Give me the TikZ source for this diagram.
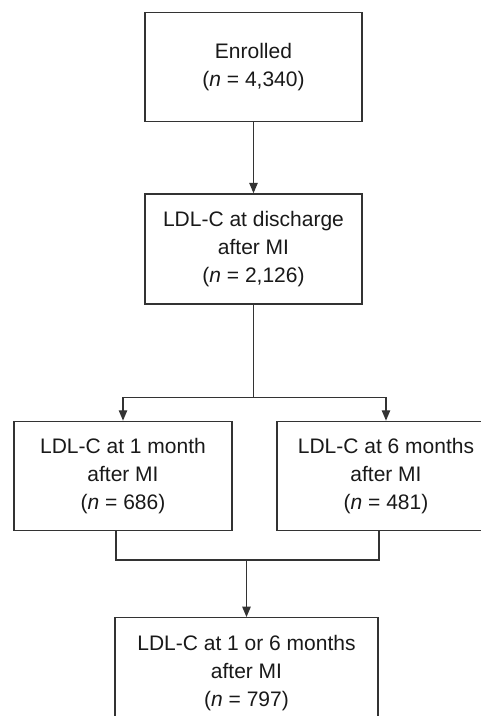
\documentclass[tikz,border=0pt]{standalone}
\usepackage{fontspec}
\setmainfont{Liberation Sans}
\usetikzlibrary{arrows,positioning}

\begin{document}
\begin{tikzpicture}[x=1pt,y=1pt,>=triangle 45,line width=1.4pt,
			color=black!80,
			box/.style={rectangle,draw,align=center,text=black!90,
				font=\fontsize{21}{28}\selectfont,
				minimum width=217pt,minimum height=109pt,inner sep=2pt}]
			
			\useasboundingbox (0,0) rectangle (481,-716);
			\clip (0,0) rectangle (481,-716);
			
			\node[box] (enrol) at (253.5,-67) {Enrolled\\(\textit{n}~=~4,340)};
			\node[box,minimum height=110pt] (disch) [below=71pt of enrol]
				{LDL-C at discharge\\after MI\\(\textit{n}~=~2,126)};
			\node[box,minimum width=218pt] (mon1) [below=116pt of disch,xshift=-130.5pt]
				{LDL-C at 1 month\\after MI\\(\textit{n}~=~686)};
			\node[box,minimum width=218pt] (mon6) [below=116pt of disch,xshift=132.5pt]
				{LDL-C at 6 months\\after MI\\(\textit{n}~=~481)};
			\node[box,minimum width=263pt,minimum height=110pt] (final) [below=86pt of mon1,xshift=123.5pt]
				{LDL-C at 1 or 6 months\\after MI\\(\textit{n}~=~797)};
			
			% split and join points
			\coordinate (split) at ([yshift=-93pt]disch.south);
			\coordinate (jl) at ([xshift=-7pt,yshift=-29pt]mon1.south);
			\coordinate (jr) at ([xshift=-7pt,yshift=-29pt]mon6.south);
			
			\draw[->] (enrol) -- (disch);
			\draw (disch.south) -- (split);
			\draw[->] (split) -| (mon1.north);
			\draw[->] (split) -| (mon6.north);
			\draw ([xshift=-7pt]mon1.south) -- (jl) -- (jr) -- ([xshift=-7pt]mon6.south);
			\draw[->] (jl -| final.north) -- (final.north);
		\end{tikzpicture}
\end{document}
